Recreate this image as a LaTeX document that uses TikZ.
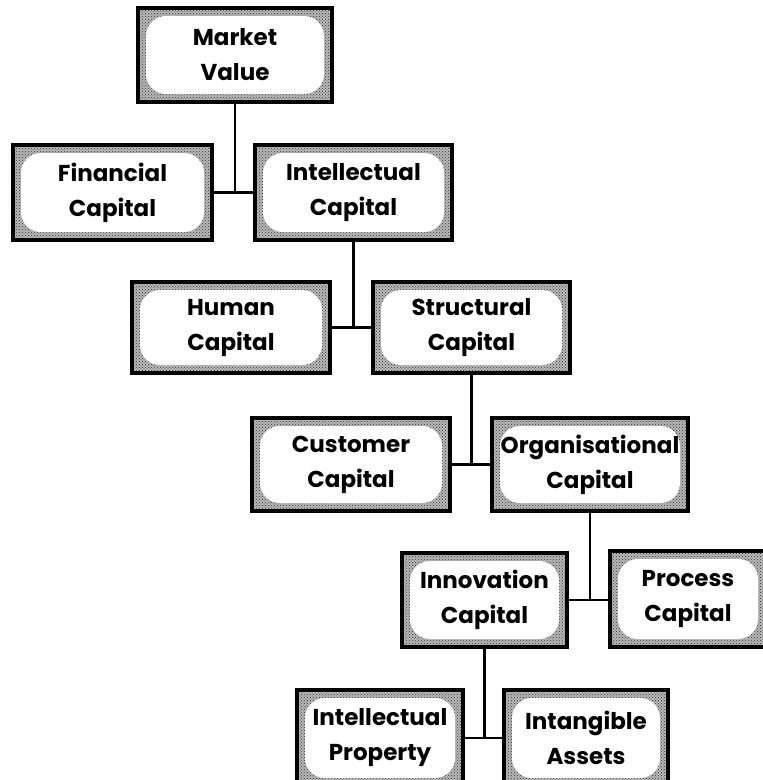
\documentclass[tikz,border=0pt]{standalone}
\usepackage{fontspec}
\setmainfont{Poppins}[Ligatures=NoCommon]
\usetikzlibrary{patterns}
\tikzset{
  capbox/.style={draw=black, line width=3.2pt, align=center, inner sep=0pt,
    font=\bfseries\fontsize{23}{35}\selectfont, minimum height=94pt,
    path picture={
      \fill[black!28] (path picture bounding box.south west) rectangle (path picture bounding box.north east);
      \fill[pattern=crosshatch dots, pattern color=black!80] (path picture bounding box.south west) rectangle (path picture bounding box.north east);
      \fill[white, rounded corners=20pt] ([shift={(8pt,8pt)}]path picture bounding box.south west) rectangle ([shift={(-8pt,-8pt)}]path picture bounding box.north east);
    }},
  link/.style={line width=2.5pt, black}
}
\begin{document}
\begin{tikzpicture}[x=1pt,y=-1pt]
\useasboundingbox (0,0) rectangle (763,780);
\node[capbox, minimum width=194pt] (mv) at (235,55) {Market\\Value};
\node[capbox, minimum width=199pt, minimum height=95pt] (fc) at (112.5,192.5) {Financial\\Capital};
\node[capbox, minimum width=197pt, minimum height=95pt] (ic) at (353.5,192.5) {Intellectual\\Capital};
\node[capbox, minimum width=198pt, minimum height=91pt] (hc) at (231,327.5) {Human\\Capital};
\node[capbox, minimum width=197pt, minimum height=91pt] (sc) at (471.5,327.5) {Structural\\Capital};
\node[capbox, minimum width=198pt, minimum height=93pt] (cc) at (351,464.5) {Customer\\Capital};
\node[capbox, minimum width=196pt, minimum height=93pt] (oc) at (590,464.5) {Organisational\\Capital};
\node[capbox, minimum width=165pt, minimum height=94pt] (inn) at (484.5,600) {Innovation\\Capital};
\node[capbox, minimum width=156pt, minimum height=96pt] (pc) at (688,599) {Process\\Capital};
\node[capbox, minimum width=166pt, minimum height=96pt] (ip) at (380,738) {Intellectual\\Property};
\node[capbox, minimum width=164pt, minimum height=96pt] (ia) at (586,738) {Intangible\\Assets};
\draw[link] (mv.south) -- (mv.south |- fc.east);
\draw[link] (fc.east) -- (ic.west);
\draw[link] (ic.south) -- (ic.south |- hc.east);
\draw[link] (hc.east) -- (sc.west);
\draw[link] (sc.south) -- (sc.south |- cc.east);
\draw[link] (cc.east) -- (oc.west);
\draw[link] (oc.south) -- (oc.south |- inn.east);
\draw[link] (inn.east) -- (inn.east -| pc.west);
\draw[link] (inn.south) -- (inn.south |- ip.east);
\draw[link] (ip.east) -- (ia.west);
\end{tikzpicture}
\end{document}
